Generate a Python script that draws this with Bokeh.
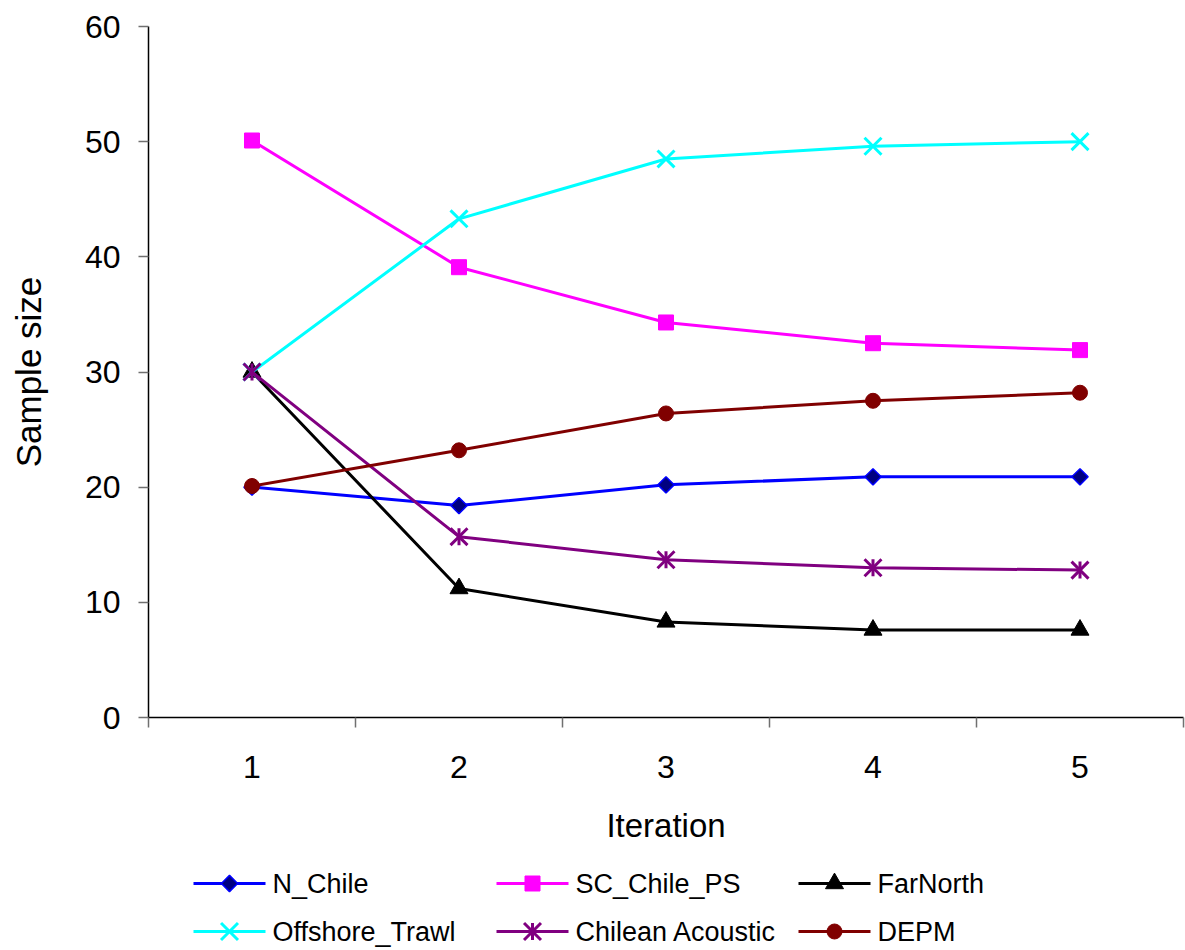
import numpy as np
from bokeh.plotting import figure
from bokeh.layouts import column
from bokeh.models import FixedTicker, Range1d
from bokeh.core.properties import value
from bokeh.embed import file_html
from bokeh.resources import INLINE

iterations = [1, 2, 3, 4, 5]
n_chile = [20.0, 18.4, 20.2, 20.9, 20.9]
sc_chile_ps = [50.1, 39.1, 34.3, 32.5, 31.9]
far_north = [30.0, 11.2, 8.3, 7.6, 7.6]
offshore_trawl = [30.0, 43.3, 48.5, 49.6, 50.0]
chilean_acoustic = [30.0, 15.7, 13.7, 13.0, 12.8]
depm = [20.1, 23.2, 26.4, 27.5, 28.2]

series_names = ["N_Chile", "SC_Chile_PS", "FarNorth",
                "Offshore_Trawl", "Chilean Acoustic", "DEPM"]
y_ticks = [0, 10, 20, 30, 40, 50, 60]

FONT = "Liberation Sans"
LW = 3

MAIN_H = 855

p = figure(width=1185, height=MAIN_H, output_backend="svg", toolbar_location=None,
           x_range=Range1d(0.5, 5.5), y_range=Range1d(0, 60),
           min_border_left=148, min_border_right=2, min_border_top=26,
           min_border_bottom=MAIN_H - 717)
p.outline_line_color = None
p.xgrid.visible = False
p.ygrid.visible = False
p.background_fill_color = "white"
p.border_fill_color = "white"

# x axis: labels at category centres, ticks at category boundaries
xa = p.xaxis[0]
xa.ticker = FixedTicker(ticks=iterations, minor_ticks=[0.5, 1.5, 2.5, 3.5, 4.5, 5.5])
xa.major_tick_out = 0
xa.major_tick_in = 0
xa.minor_tick_out = 10
xa.minor_tick_in = 0
xa.minor_tick_line_color = "#707070"
xa.minor_tick_line_width = 1.5
xa.axis_line_color = "black"
xa.axis_line_width = 1.5
xa.major_label_text_font = FONT
xa.major_label_text_font_size = "32px"
xa.major_label_text_color = "black"
xa.major_label_standoff = 28
xa.axis_label = "Iteration"
xa.axis_label_text_font = FONT
xa.axis_label_text_font_size = "33px"
xa.axis_label_text_font_style = "normal"
xa.axis_label_text_color = "black"
xa.axis_label_standoff = 26

ya = p.yaxis[0]
ya.ticker = FixedTicker(ticks=y_ticks, minor_ticks=[])
ya.major_tick_out = 10
ya.major_tick_in = 0
ya.major_tick_line_color = "#707070"
ya.major_tick_line_width = 1.5
ya.minor_tick_out = 0
ya.minor_tick_in = 0
ya.axis_line_color = "black"
ya.axis_line_width = 1.5
ya.major_label_text_font = FONT
ya.major_label_text_font_size = "32px"
ya.major_label_text_color = "black"
ya.major_label_standoff = 18
ya.axis_label = "Sample size"
ya.axis_label_text_font = FONT
ya.axis_label_text_font_size = "35px"
ya.axis_label_text_font_style = "normal"
ya.axis_label_text_color = "black"
ya.axis_label_standoff = 34


def add_markers(fig, xs, ys, kind):
    if kind == 0:
        fig.scatter(xs, ys, marker="square", angle=np.pi / 4, size=11.5,
                    fill_color="#000080", line_color="#0000FF", line_width=1.5)
    elif kind == 1:
        fig.scatter(xs, ys, marker="square", size=15,
                    fill_color="#FF00FF", line_color="#FF00FF", line_width=1)
    elif kind == 2:
        fig.scatter(xs, ys, marker="triangle", size=18,
                    fill_color="black", line_color="black", line_width=1)
    elif kind == 3:
        fig.scatter(xs, ys, marker="x", size=24, line_color="#00FFFF", line_width=3)
    elif kind == 4:
        fig.scatter(xs, ys, marker="x", size=24, line_color="#800080", line_width=3)
        fig.scatter(xs, ys, marker="dash", angle=np.pi / 2, size=17,
                    line_color="#800080", line_width=3)
    else:
        fig.scatter(xs, ys, marker="circle", size=15,
                    fill_color="#800000", line_color="#800000", line_width=1)


line_colors = ["#0000FF", "#FF00FF", "black", "#00FFFF", "#800080", "#800000"]
all_series = [n_chile, sc_chile_ps, far_north, offshore_trawl, chilean_acoustic, depm]
for k, ys in enumerate(all_series):
    p.line(iterations, ys, line_color=line_colors[k], line_width=LW)
    add_markers(p, iterations, ys, k)

# Legend strip underneath (page-pixel coordinates)
LEG_H = 950 - MAIN_H
q = figure(width=1185, height=LEG_H, output_backend="svg", toolbar_location=None,
           x_range=Range1d(148, 1183), y_range=Range1d(950, 950 - LEG_H),
           min_border_left=148, min_border_right=2, min_border_top=0, min_border_bottom=0)
q.outline_line_color = None
q.axis.visible = False
q.grid.visible = False
q.background_fill_color = "white"
q.border_fill_color = "white"

col_x = [193, 496, 798]
row_y = [883, 931]
for k, name in enumerate(series_names):
    x0 = col_x[k % 3]
    yy = row_y[k // 3]
    q.line([x0, x0 + 72], [yy, yy], line_color=line_colors[k], line_width=LW)
    add_markers(q, [x0 + 36], [yy], k)
    q.text([x0 + 79], [yy], text=[name], text_font=value(FONT), text_font_size="27px",
           text_baseline="middle", text_align="left", text_color="black")

layout = column(p, q, spacing=0)
open("out.html", "w").write(file_html(layout, INLINE))
